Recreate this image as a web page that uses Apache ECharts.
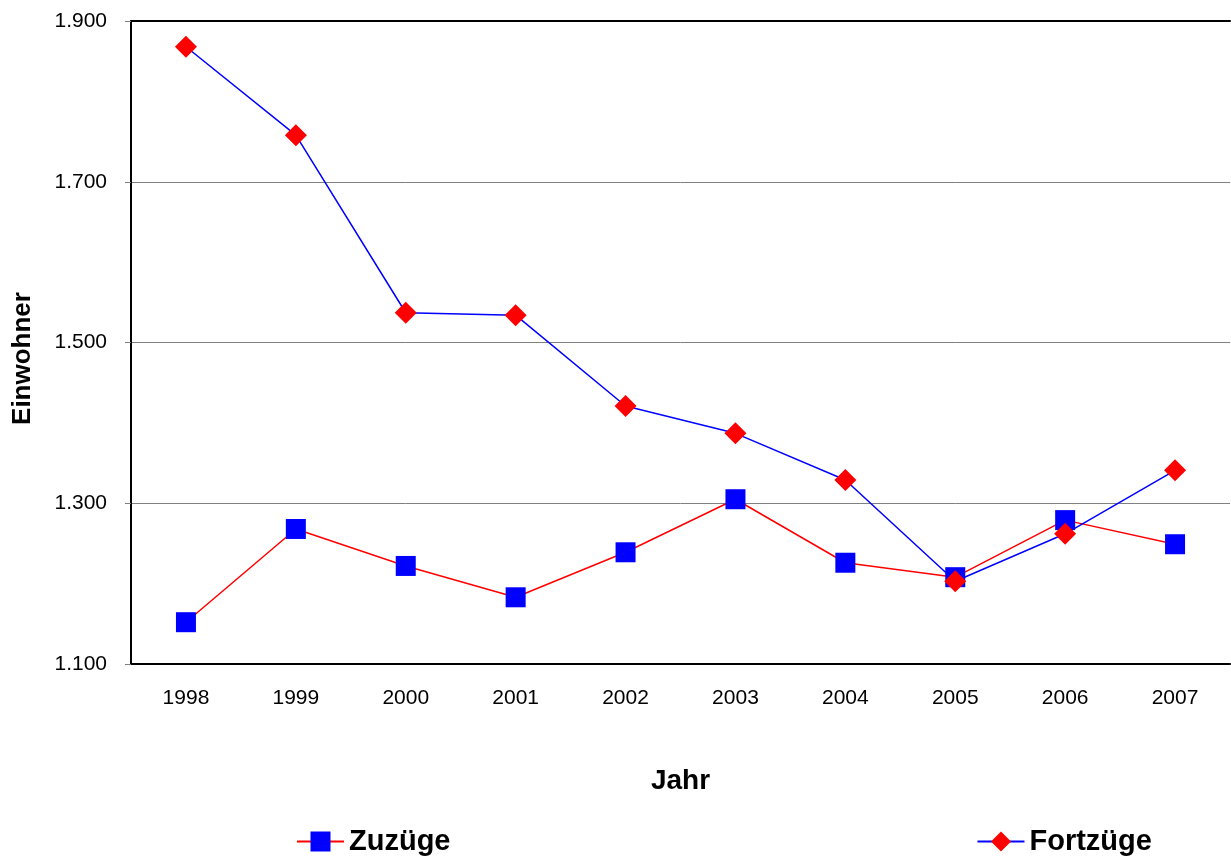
<!DOCTYPE html>
<html>
<head>
<meta charset="utf-8">
<script src="https://cdn.jsdelivr.net/npm/echarts@6/dist/echarts.min.js"></script>
<style>
  html, body { margin: 0; padding: 0; background: #fff; }
  #main { width: 1231px; height: 857px; }
</style>
</head>
<body>
<div id="main"></div>
<script>
const years = ["1998", "1999", "2000", "2001", "2002", "2003", "2004", "2005", "2006", "2007"];
const zuzuege = [1152, 1268, 1222, 1183, 1239, 1305, 1226, 1208, 1279, 1249];
const fortzuege = [1868, 1758, 1537, 1534, 1421, 1387, 1329, 1203, 1262, 1341];

const font = "'Liberation Sans', Arial, sans-serif";
const fmt = (v) => String(v).replace(/\B(?=(\d{3})+(?!\d))/g, ".");

const myChart = echarts.init(document.getElementById("main"));

const option = {
  animation: false,
  textStyle: { fontFamily: font },
  grid: { left: 131, right: 1, top: 21, bottom: 193 },
  legend: {
    left: 291,
    top: 822,
    itemGap: 526,
    itemWidth: 47,
    itemHeight: 25,
    textStyle: { fontSize: 29, fontWeight: "bold", color: "#000", fontFamily: font },
    data: ["Zuzüge", "Fortzüge"],
  },
  xAxis: [
    {
      type: "category",
      data: years,
      boundaryGap: true,
      name: "Jahr",
      nameLocation: "middle",
      nameGap: 103,
      nameTextStyle: { fontSize: 28, fontWeight: "bold", color: "#000" },
      axisLine: { lineStyle: { color: "#000", width: 2 } },
      axisTick: { inside: true, length: 6, lineStyle: { color: "#000" } },
      axisLabel: { fontSize: 21, color: "#000", margin: 24 },
      splitLine: { show: false },
    },
    {
      // top border of the plot
      type: "category",
      data: years,
      position: "top",
      axisLine: { lineStyle: { color: "#000", width: 2 } },
      axisTick: { show: false },
      axisLabel: { show: false },
    },
  ],
  yAxis: {
    type: "value",
    min: 1100,
    max: 1900,
    interval: 200,
    name: "Einwohner",
    nameLocation: "middle",
    nameGap: 95,
    nameTextStyle: { fontSize: 26, fontWeight: "bold", color: "#000", padding: [0, 32, 0, 0] },
    axisLine: { show: true, lineStyle: { color: "#000", width: 2 } },
    axisTick: { show: true, length: 6, lineStyle: { color: "#808080" } },
    axisLabel: { fontSize: 21, color: "#000", margin: 24, formatter: fmt },
    splitLine: { lineStyle: { color: "#808080", width: 1 } },
  },
  series: [
    {
      name: "Zuzüge",
      type: "line",
      data: zuzuege,
      symbol: "rect",
      symbolSize: 20,
      itemStyle: { color: "#0000ff" },
      lineStyle: { color: "#ff0000", width: 1.5 },
    },
    {
      name: "Fortzüge",
      type: "line",
      data: fortzuege,
      symbol: "diamond",
      symbolSize: 22,
      itemStyle: { color: "#ff0000" },
      lineStyle: { color: "#0000ff", width: 1.5 },
    },
  ],
};
myChart.setOption(option);
</script>
</body>
</html>
